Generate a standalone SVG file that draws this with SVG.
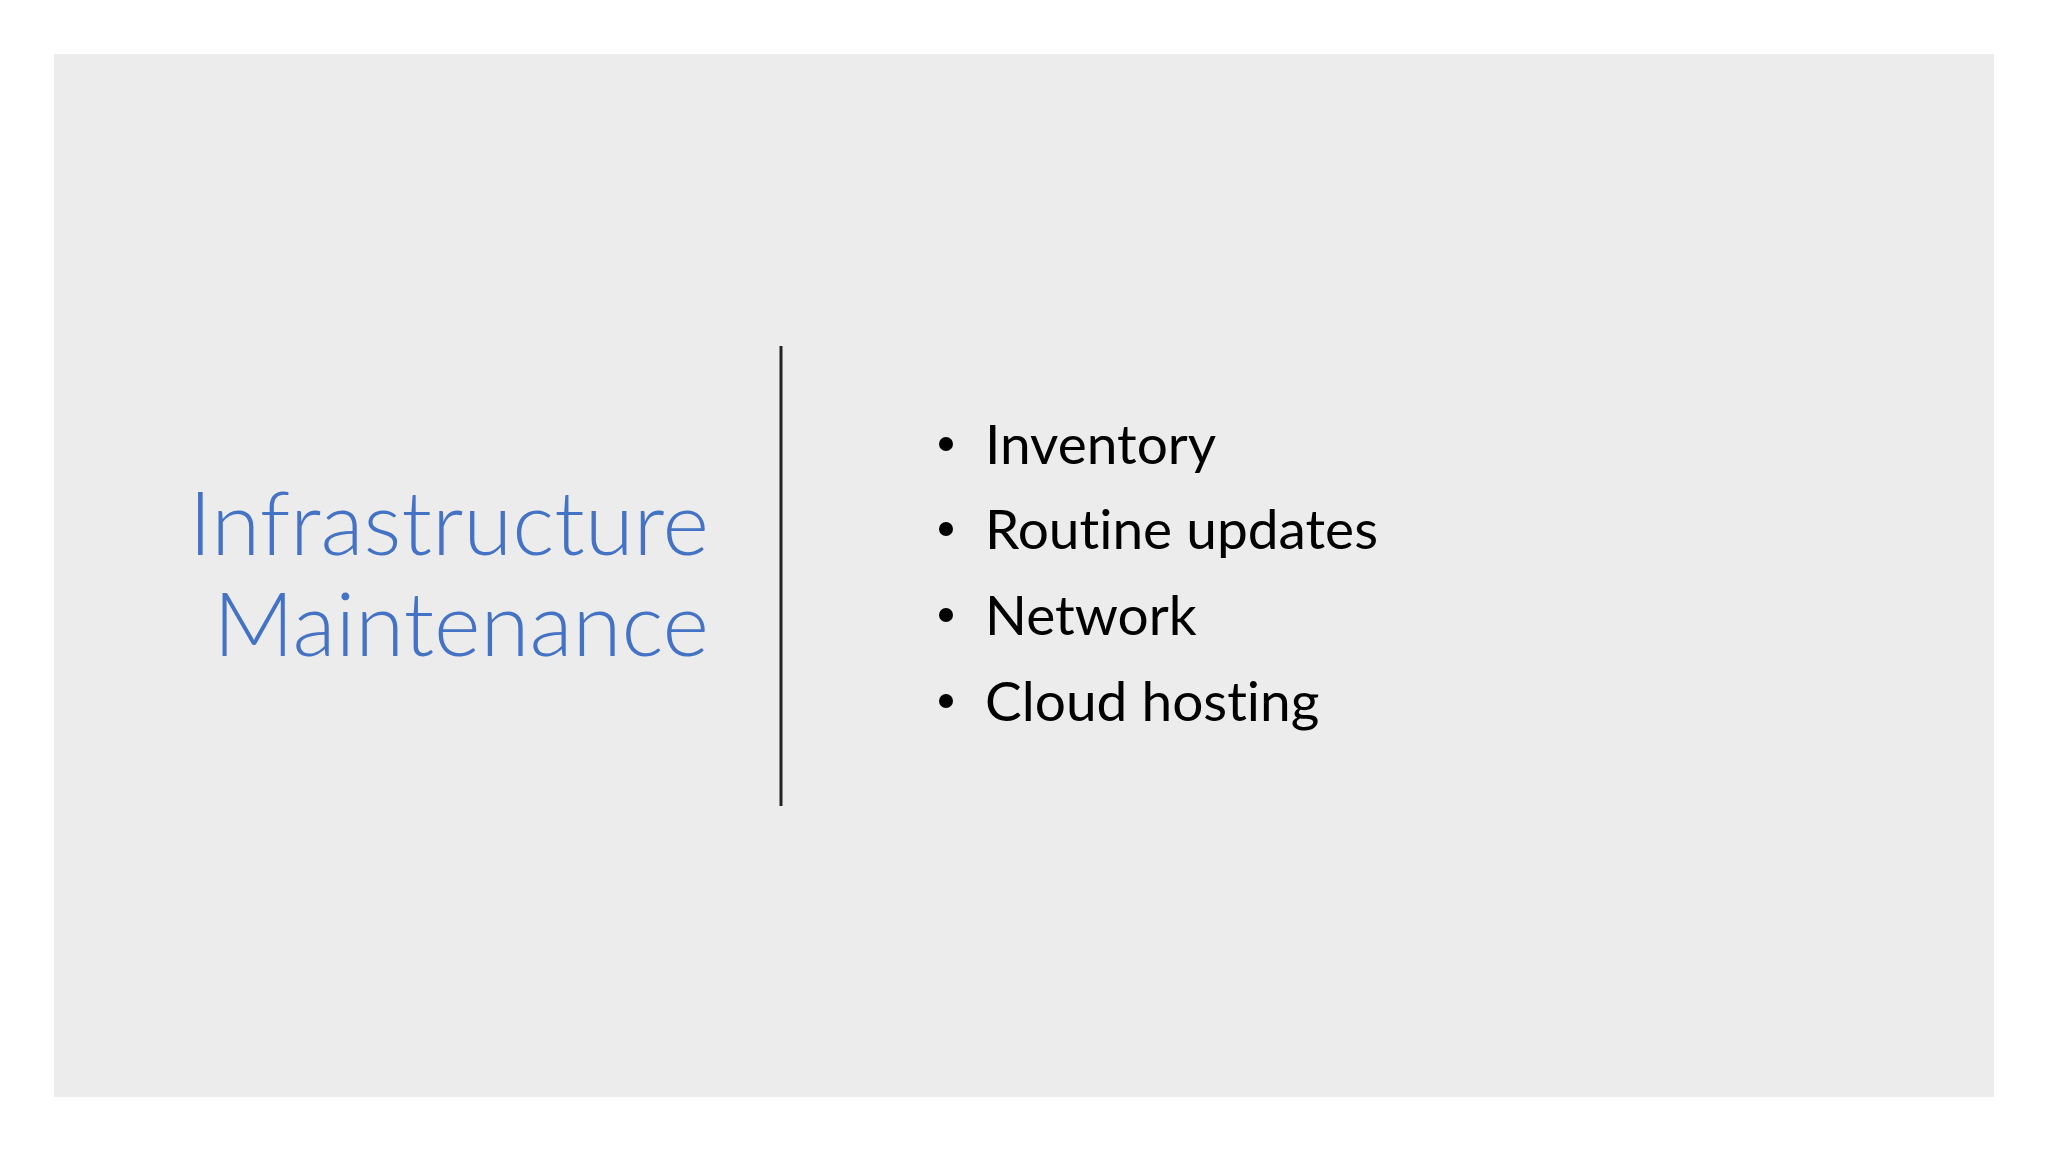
<svg xmlns="http://www.w3.org/2000/svg" width="2048" height="1152" viewBox="0 0 2048 1152">
<style>
.t{font-family:Lato,"Open Sans",sans-serif;font-weight:300;font-size:89px;fill:#4472C4;text-anchor:end;font-variant-ligatures:none}
.b{font-family:Lato,"Open Sans",sans-serif;font-size:55px;fill:#000;font-variant-ligatures:none}
</style>
<rect width="2048" height="1152" fill="#fff"/>
<rect x="54" y="54" width="1940" height="1043" fill="#ECECEC"/>
<g id="title"><text class="t" x="709" y="555">Infrastructure</text><text class="t" x="709" y="656">Maintenance</text></g>
<g id="divider"><line x1="781" y1="346" x2="781" y2="806" stroke="#222" stroke-width="3"/></g>
<g id="bullets">
<circle cx="946" cy="444" r="7"/><text class="b" x="985" y="464">Inventory</text>
<circle cx="946" cy="529" r="7"/><text class="b" x="985" y="549">Routine updates</text>
<circle cx="946" cy="615" r="7"/><text class="b" x="985" y="635">Network</text>
<circle cx="946" cy="701" r="7"/><text class="b" x="985" y="721">Cloud hosting</text>
</g>
</svg>
